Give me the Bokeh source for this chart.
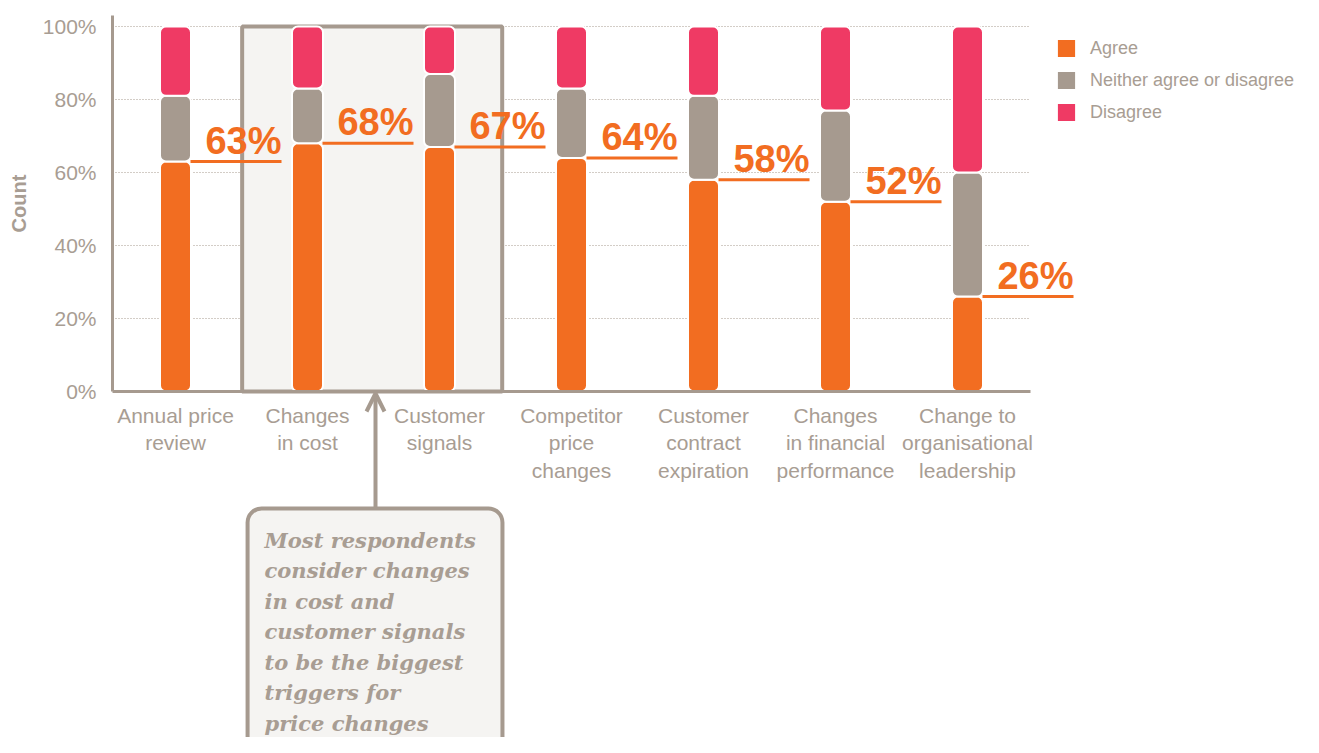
from bokeh.plotting import figure
from bokeh.models import (Range1d, LinearAxis, FixedTicker, ColumnDataSource,
                          Legend, LegendItem, Arrow, OpenHead)
from bokeh.core.properties import value
from bokeh.embed import file_html
from bokeh.resources import INLINE

# ---------------- data ----------------
categories = ["Annual price\nreview", "Changes\nin cost", "Customer\nsignals",
              "Competitor\nprice\nchanges", "Customer\ncontract\nexpiration",
              "Changes\nin financial\nperformance", "Change to\norganisational\nleadership"]
agree = [63, 68, 67, 64, 58, 52, 26]
neither = [18, 15, 20, 19, 23, 25, 34]
disagree = [19, 17, 13, 17, 19, 23, 40]
series = ["Agree", "Neither agree or disagree", "Disagree"]
y_ticks = [0, 20, 40, 60, 80, 100]
y_tick_labels = ["0%", "20%", "40%", "60%", "80%", "100%"]
highlighted = [1, 2]
callout_text = ("Most respondents\nconsider changes\nin cost and\ncustomer signals\n"
                "to be the biggest\ntriggers for\nprice changes")

# ---------------- style ----------------
colors = ["#F26D21", "#A69A8F", "#EF3A64"]
GRAY = "#A69A8F"
TEXT = "#A89D93"
BOXFILL = "#F5F4F2"
ORANGE = "#F26D21"
FONT = "Liberation Sans"

W, H = 1303, 737
X0, Y0 = 175, 391      # pixel position of first category / 0 %
PXX = 132.0            # px per category
PXY = 3.65             # px per percent
def dx(px): return px / PXX
def dy(px): return px / PXY

x_range = Range1d(-dx(X0), dx(W - X0))
y_range = Range1d(-dy(H - Y0), dy(Y0))

p = figure(width=W, height=H, x_range=x_range, y_range=y_range,
           output_backend="svg", toolbar_location=None, min_border=0,
           x_axis_type=None, y_axis_type=None, outline_line_color=None)
p.xgrid.visible = False
p.ygrid.visible = False

n = len(categories)
xs = list(range(n))
ax_left = -dx(63)
ax_right = n - 1 + dx(63)

# dotted grid lines
gt = [t for t in y_ticks if t > 0]
p.segment(x0=[ax_left] * len(gt), x1=[ax_right] * len(gt), y0=gt, y1=gt,
          line_color=GRAY, line_width=1, line_dash="1 2")

# highlight box
p.quad(left=[min(highlighted) - 0.495], right=[max(highlighted) + 0.475],
       bottom=[0], top=[100], fill_color=BOXFILL, line_color=GRAY, line_width=4)

# stacked bars
src = ColumnDataSource(dict(x=xs, agree=agree, neither=neither, disagree=disagree))
bw = dx(31)
rs = p.vbar_stack(["agree", "neither", "disagree"], x="x", width=bw, color=colors,
                  source=src, line_color="white", line_width=2, border_radius=6)

# value labels with underline
line_x0 = [x + dx(15) for x in xs]
line_x1 = [x + dx(106) for x in xs]
p.segment(x0=line_x0, x1=line_x1, y0=agree, y1=agree, line_color=ORANGE, line_width=3)
p.text(x=line_x1, y=agree, text=[f"{v}%" for v in agree], text_align="right",
       text_baseline="bottom", y_offset=0, text_font=value(FONT),
       text_font_style="bold", text_font_size="38px", text_color=ORANGE)

# axes
yaxis = LinearAxis(ticker=FixedTicker(ticks=y_ticks), fixed_location=ax_left,
                   bounds=(0, 103),
                   major_label_overrides={t: l for t, l in zip(y_ticks, y_tick_labels)},
                   axis_label="Count")
yaxis.axis_line_color = GRAY
yaxis.axis_line_width = 3
yaxis.major_tick_line_color = None
yaxis.minor_tick_line_color = None
yaxis.major_tick_out = 0
yaxis.major_tick_in = 0
yaxis.major_label_standoff = 16
yaxis.major_label_text_font = FONT
yaxis.major_label_text_font_size = "21px"
yaxis.major_label_text_color = TEXT
yaxis.axis_label_text_font = FONT
yaxis.axis_label_text_font_size = "20px"
yaxis.axis_label_text_font_style = "bold"
yaxis.axis_label_text_color = TEXT
yaxis.axis_label_standoff = 10
p.add_layout(yaxis, "left")

xaxis = LinearAxis(ticker=FixedTicker(ticks=xs), fixed_location=0,
                   bounds=(ax_left, ax_right),
                   major_label_overrides={i: c for i, c in zip(xs, categories)})
xaxis.axis_line_color = GRAY
xaxis.axis_line_width = 3
xaxis.major_tick_line_color = None
xaxis.minor_tick_line_color = None
xaxis.major_tick_out = 0
xaxis.major_tick_in = 0
xaxis.major_label_standoff = 12
xaxis.major_label_text_font = FONT
xaxis.major_label_text_font_size = "21px"
xaxis.major_label_text_color = TEXT
xaxis.major_label_text_line_height = 1.2
p.add_layout(xaxis, "below")

# callout box + arrow + text
mid = (min(highlighted) + max(highlighted)) / 2.0
cb_top = -dy(117)
cb_left = min(highlighted) - 0.454
p.quad(left=[cb_left], right=[max(highlighted) + 0.477],
       bottom=[-dy(500)], top=[cb_top], fill_color=BOXFILL, line_color=GRAY,
       line_width=4, border_radius=14)
p.add_layout(Arrow(x_start=mid + dx(2), y_start=cb_top, x_end=mid + dx(2), y_end=-dy(2),
                   line_color=GRAY, line_width=4,
                   end=OpenHead(size=18, line_color=GRAY, line_width=4)))
p.text(x=[cb_left + dx(17)], y=[cb_top - dy(19)], text=[callout_text],
       text_baseline="top", text_align="left", text_font=value("DejaVu Serif"),
       text_font_style="bold italic", text_font_size="21px", text_color=TEXT,
       text_line_height=1.22)

# legend
legend = Legend(items=[LegendItem(label=s, renderers=[r]) for s, r in zip(series, rs)],
                location=(1054, 613), padding=0, margin=0, spacing=8,
                glyph_width=24, glyph_height=24, label_standoff=12,
                label_text_font=FONT, label_text_font_size="18px",
                label_text_color=TEXT, border_line_color=None,
                background_fill_alpha=0)
p.add_layout(legend)

open("out.html", "w").write(file_html(p, INLINE))
